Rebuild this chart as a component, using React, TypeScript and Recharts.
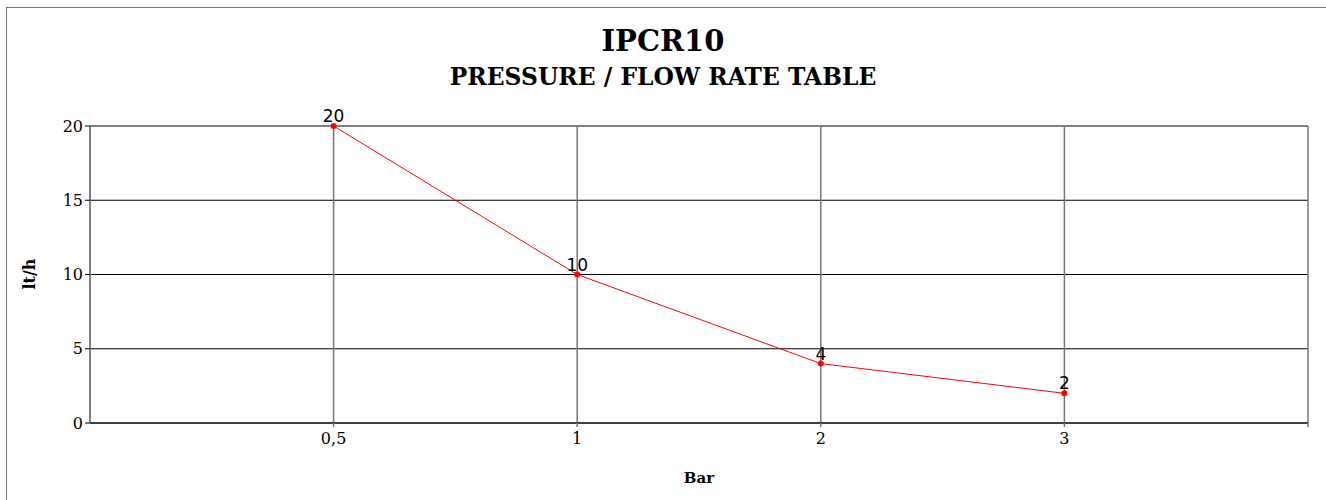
import React from "react";
import { LineChart, Line, XAxis, YAxis, CartesianGrid, LabelList, Label } from "recharts";

const pressureLabels = ["0,5", "1", "2", "3"];
const flowRates = [20, 10, 4, 2];
const yTicks = [0, 5, 10, 15, 20];

const data = pressureLabels.map((p, i) => ({ pos: i + 1, bar: p, flow: flowRates[i] }));

const serif = "'DejaVu Serif', Georgia, serif";

const App = () => {
  const xTickFormat = (v: number) => pressureLabels[v - 1] ?? "";

  return (
    <div style={{ position: "absolute", left: 0, top: 0, width: 1326, height: 500, background: "#fff", overflow: "hidden" }}>
      <div
        style={{
          position: "absolute",
          left: 0,
          width: 1326,
          top: 22,
          textAlign: "center",
          fontFamily: serif,
          fontWeight: "bold",
          fontSize: 29,
          lineHeight: "38px",
        }}
      >
        IPCR10
      </div>
      <div
        style={{
          position: "absolute",
          left: 0,
          width: 1326,
          top: 62,
          textAlign: "center",
          fontFamily: serif,
          fontWeight: "bold",
          fontSize: 23.4,
          lineHeight: "30px",
        }}
      >
        PRESSURE / FLOW RATE TABLE
      </div>
      <div style={{ position: "absolute", left: 0, top: 0 }}>
        <LineChart width={1326} height={500} data={data} margin={{ top: 126, right: 18, left: 0, bottom: 0 }}>
          <CartesianGrid horizontal={true} vertical={false} stroke="#000" strokeWidth={1} />
          <CartesianGrid horizontal={false} vertical={true} stroke="#777" strokeWidth={1.5} />
          <XAxis
            dataKey="pos"
            type="number"
            domain={[0, 5]}
            ticks={[1, 2, 3, 4, 5]}
            tickFormatter={xTickFormat}
            height={77}
            axisLine={{ stroke: "#000" }}
            tickLine={{ stroke: "#777", strokeWidth: 1.5 }}
            tickSize={4}
            tickMargin={6}
            tick={{ fill: "#000", fontSize: 16, fontFamily: serif }}
          >
            <Label
              value="Bar"
              position="insideBottom"
              offset={17}
              style={{ fontFamily: serif, fontWeight: "bold", fontSize: 15, fill: "#000" }}
            />
          </XAxis>
          <YAxis
            type="number"
            domain={[0, 20]}
            ticks={yTicks}
            width={90}
            axisLine={{ stroke: "#777", strokeWidth: 1.5 }}
            tickLine={{ stroke: "#000" }}
            tickSize={5}
            tickMargin={2}
            tick={{ fill: "#000", fontSize: 16, fontFamily: serif }}
          >
            <Label
              content={() => (
                <text
                  x={35}
                  y={274}
                  transform="rotate(-90 35 274)"
                  textAnchor="middle"
                  style={{ fontFamily: serif, fontWeight: "bold", fontSize: 16, fill: "#000" }}
                >
                  lt/h
                </text>
              )}
            />
          </YAxis>
          <Line
            dataKey="flow"
            stroke="#ff0000"
            strokeWidth={1}
            dot={{ r: 3, fill: "#ff0000", stroke: "#ff0000", strokeWidth: 0 }}
            isAnimationActive={false}
          >
            <LabelList
              dataKey="flow"
              position="top"
              offset={4}
              style={{ fill: "#000", fontSize: 17, fontFamily: "'DejaVu Sans', sans-serif" }}
            />
          </Line>
        </LineChart>
      </div>
      <div
        style={{
          position: "absolute",
          left: 6,
          top: 7,
          width: 1400,
          height: 600,
          borderLeft: "1.5px solid #7a7a7a",
          borderTop: "1.5px solid #7a7a7a",
          boxSizing: "border-box",
          pointerEvents: "none",
        }}
      />
    </div>
  );
};

export default App;
